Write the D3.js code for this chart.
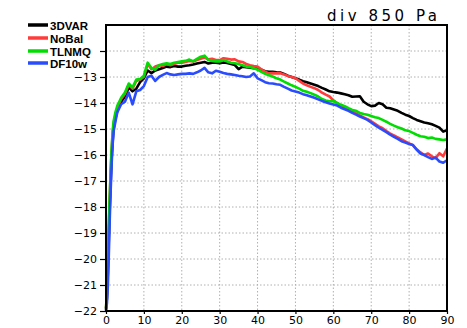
<!DOCTYPE html>
<html>
<head>
<meta charset="utf-8">
<script src="https://cdn.jsdelivr.net/npm/d3@7"></script>
<style>
  body { margin: 0; background: #fff; }
  svg { display: block; }
</style>
</head>
<body>
<svg id="chart"></svg>
<script>
// forecast lead (x) values shared by every series
const steps = [0, 0.25, 0.5, 0.75, 1, 1.25, 1.5, 1.75, 2, 2.5, 3, 3.5, 4,
  5, 6, 7, 8, 9, 10, 11, 12, 13, 14, 15, 16, 17, 18, 19, 20,
  21, 22, 23, 24, 25, 26, 27, 28, 29, 30, 31, 32, 33, 34, 35, 36, 37, 38, 39, 40,
  41, 42, 43, 44, 45, 46, 47, 48, 49, 50, 51, 52, 53, 54, 55, 56, 57, 58, 59, 60,
  61, 62, 63, 64, 65, 66, 67, 68, 69, 70, 71, 72, 73, 74, 75, 76, 77, 78, 79, 80,
  81, 82, 83, 84, 85, 86, 87, 88, 89, 90];

const var3d = [-21.95, -21.5, -20.5, -19.2, -18.0, -17.0, -16.1, -15.5, -15.0, -14.6, -14.3, -14.1, -13.95,
  -13.75, -13.4, -13.55, -13.45, -13.2, -13.05, -12.75, -12.85, -12.75, -12.7, -12.65, -12.6, -12.62, -12.58, -12.6, -12.6,
  -12.57, -12.55, -12.52, -12.48, -12.45, -12.42, -12.48, -12.45, -12.45, -12.47, -12.44, -12.46, -12.5, -12.54, -12.7, -12.6, -12.62, -12.64, -12.66, -12.67,
  -12.72, -12.78, -12.8, -12.8, -12.82, -12.83, -12.88, -12.95, -13.0, -13.05, -13.1, -13.16, -13.2, -13.25, -13.3, -13.35, -13.42, -13.48, -13.55, -13.58,
  -13.6, -13.63, -13.66, -13.7, -13.76, -13.75, -13.74, -13.95, -14.05, -14.12, -14.1, -14.0, -14.05, -14.18, -14.2, -14.25, -14.3, -14.38, -14.45, -14.5,
  -14.58, -14.65, -14.7, -14.75, -14.78, -14.82, -14.88, -14.95, -15.1, -15.05];

const noBal = [-21.9, -21.3, -20.2, -18.8, -17.6, -16.6, -15.8, -15.2, -14.8, -14.45, -14.2, -14.0, -13.85,
  -13.65, -13.3, -13.45, -13.15, -13.1, -13.0, -12.5, -12.7, -12.6, -12.55, -12.58, -12.5, -12.55, -12.5, -12.45, -12.45,
  -12.42, -12.38, -12.4, -12.35, -12.3, -12.25, -12.32, -12.3, -12.35, -12.35, -12.28, -12.3, -12.33, -12.32, -12.4, -12.42, -12.5, -12.55, -12.58, -12.6,
  -12.7, -12.8, -12.86, -12.85, -12.86, -12.86, -12.9, -12.96, -13.0, -13.05, -13.15, -13.25, -13.32, -13.38, -13.43, -13.5, -13.6, -13.68, -13.75, -13.9,
  -14.0, -14.12, -14.18, -14.25, -14.32, -14.4, -14.48, -14.55, -14.62, -14.7, -14.8, -14.9, -14.97, -15.08, -15.18, -15.25, -15.32, -15.4, -15.48, -15.55,
  -15.62, -15.78, -15.9, -16.0, -15.94, -16.05, -16.12, -15.93, -16.05, -15.75];

const tlnmq = [-21.9, -21.2, -20.0, -18.6, -17.5, -16.5, -15.7, -15.1, -14.7, -14.35, -14.1, -13.95, -13.8,
  -13.6, -13.25, -13.4, -13.1, -13.08, -12.95, -12.45, -12.65, -12.72, -12.55, -12.5, -12.47, -12.5, -12.45, -12.42, -12.4,
  -12.38, -12.33, -12.4, -12.3, -12.22, -12.18, -12.35, -12.38, -12.4, -12.4, -12.35, -12.4, -12.45, -12.47, -12.5, -12.55, -12.6, -12.62, -12.66, -12.72,
  -12.8, -12.88, -12.93, -12.98, -13.05, -13.1, -13.18, -13.25, -13.32, -13.38, -13.45, -13.53, -13.57, -13.62, -13.68, -13.75, -13.85, -13.9, -13.93, -13.92,
  -14.0, -14.07, -14.12, -14.2, -14.27, -14.3, -14.38, -14.42, -14.45, -14.5, -14.55, -14.58, -14.65, -14.72, -14.8, -14.87, -14.93, -14.98, -15.05, -15.08,
  -15.15, -15.22, -15.28, -15.3, -15.35, -15.33, -15.38, -15.4, -15.42, -15.4];

const df10w = [-22.0, -21.7, -21.0, -19.8, -18.4, -17.3, -16.3, -15.6, -15.1, -14.7, -14.35, -14.2, -14.05,
  -13.95, -13.6, -14.05, -13.55, -13.5, -13.35, -13.0, -12.95, -13.15, -13.0, -12.92, -12.85, -12.9, -12.92, -12.9, -12.88,
  -12.88, -12.86, -12.88, -12.82, -12.75, -12.65, -12.82, -12.86, -12.76, -12.8, -12.85, -12.88, -12.9, -12.92, -12.95, -12.97, -13.0, -12.98, -12.86, -13.05,
  -13.12, -13.2, -13.24, -13.25, -13.28, -13.3, -13.38, -13.45, -13.52, -13.56, -13.6, -13.66, -13.7, -13.75, -13.8, -13.86, -13.92, -13.97, -14.02, -14.06,
  -14.1, -14.18, -14.24, -14.3, -14.38, -14.45, -14.52, -14.58, -14.65, -14.75, -14.85, -14.95, -15.03, -15.12, -15.22, -15.3, -15.38, -15.47, -15.52, -15.58,
  -15.62, -15.8, -15.94, -16.0, -16.08, -16.15, -16.1, -16.25, -16.3, -16.2];

const names = ["3DVAR", "NoBal", "TLNMQ", "DF10w"];
const colors = ["#000000", "#ff3b3b", "#00dd00", "#2a4cff"];
const seriesVals = [var3d, noBal, tlnmq, df10w];
const xTicks = [0, 10, 20, 30, 40, 50, 60, 70, 80, 90];
const yTicks = [-22, -21, -20, -19, -18, -17, -16, -15, -14, -13, -12, -11];
const yLabels = [-22, -21, -20, -19, -18, -17, -16, -15, -14, -13];

const W = 467, H = 328;
const margin = { top: 25, right: 20, bottom: 17, left: 106 };
const width = W - margin.left - margin.right,
  height = H - margin.top - margin.bottom;

const svg = d3.select("#chart").attr("width", W).attr("height", H);
const g = svg.append("g")
  .attr("transform", "translate(" + margin.left + "," + margin.top + ")");

const x = d3.scaleLinear().domain([0, 90]).range([0, width]);
const y = d3.scaleLinear().domain([-22, -11]).range([height, 0]);

// dotted grid
g.append("g").selectAll("line")
  .data(xTicks.slice(1, -1))
  .join("line")
  .attr("x1", d => x(d)).attr("x2", d => x(d))
  .attr("y1", 0).attr("y2", height)
  .attr("stroke", "#b0b0b0").attr("stroke-dasharray", "1.5,2");
g.append("g").selectAll("line")
  .data(yTicks.slice(1, -1))
  .join("line")
  .attr("y1", d => y(d)).attr("y2", d => y(d))
  .attr("x1", 0).attr("x2", width)
  .attr("stroke", "#b0b0b0").attr("stroke-dasharray", "1.5,2");

// lines
const line = d3.line()
  .x((d, i) => x(steps[i]))
  .y(d => y(d));
g.selectAll(".series")
  .data(seriesVals)
  .join("path")
  .attr("class", "series")
  .attr("fill", "none")
  .attr("stroke", (d, i) => colors[i])
  .attr("stroke-width", 2.6)
  .attr("stroke-linejoin", "round")
  .attr("d", d => line(d));

// axes
const yAxis = g.append("g")
  .call(d3.axisLeft(y).tickValues(yTicks.slice(0, -1)).tickSize(6).tickPadding(3)
    .tickFormat(d => yLabels.includes(d) ? d3.format("d")(d) : ""));
const xAxis = g.append("g")
  .attr("transform", "translate(0," + height + ")")
  .call(d3.axisBottom(x).tickValues(xTicks).tickSize(3).tickPadding(2));
[yAxis, xAxis].forEach(a => {
  a.select(".domain").remove();
  a.selectAll("line").attr("stroke", "#000").attr("stroke-width", 1.2);
  a.selectAll("text")
    .attr("fill", "#000")
    .style("font-family", "'DejaVu Sans', sans-serif")
    .style("font-size", "11px");
});

// frame
g.append("rect")
  .attr("width", width).attr("height", height)
  .attr("fill", "none").attr("stroke", "#000").attr("stroke-width", 2);

// title
svg.append("text")
  .attr("x", 437).attr("y", 21)
  .attr("text-anchor", "end")
  .attr("textLength", 110)
  .style("font-family", "'DejaVu Sans', sans-serif")
  .style("font-size", "15px")
  .text("div 850 Pa");

// legend
const legY = [25, 38, 51, 63];
const leg = svg.append("g");
leg.selectAll("line")
  .data(names)
  .join("line")
  .attr("x1", 28).attr("x2", 48)
  .attr("y1", (d, i) => legY[i]).attr("y2", (d, i) => legY[i])
  .attr("stroke", (d, i) => colors[i])
  .attr("stroke-width", 3.5);
leg.selectAll("text")
  .data(names)
  .join("text")
  .attr("x", 50)
  .attr("y", (d, i) => legY[i] + 4.5)
  .style("font-family", "'Liberation Sans', sans-serif")
  .style("font-weight", "bold")
  .style("font-size", "11.5px")
  .text(d => d);
</script>
</body>
</html>
